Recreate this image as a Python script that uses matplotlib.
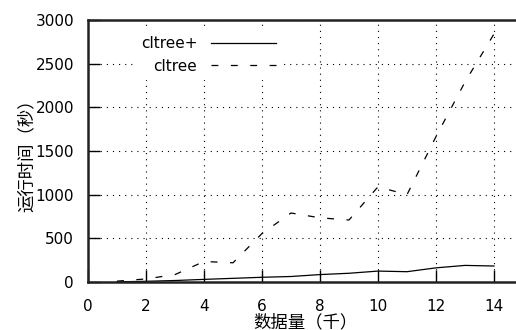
import matplotlib
matplotlib.use("Agg")
from matplotlib import pyplot as plt

# data (x in thousands, y in seconds)
sizes = [1, 2, 3, 4, 5, 6, 7, 8, 9, 10, 11, 12, 13, 14]
cltree_plus = [2, 8, 17, 30, 42, 54, 63, 85, 100, 125, 118, 162, 190, 183]
cltree = [10, 35, 85, 235, 220, 555, 790, 735, 710, 1090, 1000, 1665, 2290, 2840]
x_ticks = [0, 2, 4, 6, 8, 10, 12, 14]
y_ticks = [0, 500, 1000, 1500, 2000, 2500, 3000]

plt.rcParams['font.family'] = ['DejaVu Sans']
plt.rcParams['font.size'] = 11

fig = plt.figure(figsize=(5.16, 3.30), dpi=100)
# right edge of the axes lies outside the picture, like the original
ax = fig.add_axes([88 / 516, 48 / 330, 435 / 516, 262 / 330])

ax.plot(sizes, cltree_plus, color="black", lw=0.9, label="cltree+")
ax.plot(sizes, cltree, color="black", lw=0.9, dashes=(5.5, 10), label="cltree")

ax.set_xlim(0, 15)
ax.set_ylim(0, 3000)
ax.set_xticks(x_ticks)
ax.set_yticks(y_ticks)

# dotted gnuplot-like grid
ax.grid(True, color="black", lw=0.8, linestyle=(0, (1, 4.5)))
ax.set_axisbelow(True)

ax.tick_params(direction="in", length=8.5, width=1, top=False, right=False)
ax.tick_params(axis="y", pad=10)
ax.tick_params(axis="x", pad=12)
for side in ["left", "bottom", "top"]:
    ax.spines[side].set_linewidth(1.8)
    ax.spines[side].set_color("#222222")

cjk = ['Noto Sans CJK SC', 'DejaVu Sans']
ax.set_xlabel("数据量（千）", family=cjk, fontsize=12.5, labelpad=-0.5)
ax.set_ylabel("运行时间（秒）", family=cjk, fontsize=12.5, labelpad=0)

leg = ax.legend(loc="upper right", bbox_to_anchor=(0.446, 0.962), borderaxespad=0,
                markerfirst=False, handlelength=4.25, handletextpad=0.9,
                frameon=True, fancybox=False, framealpha=1, borderpad=0.4)
leg.get_frame().set_edgecolor("none")
leg.get_frame().set_facecolor("white")

fig.savefig("out.png", dpi=100)
